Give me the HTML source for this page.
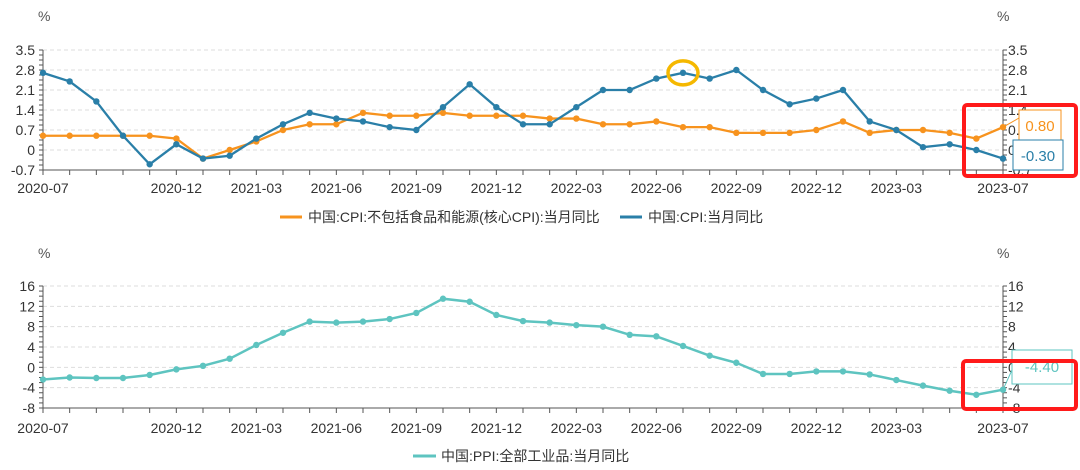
<!DOCTYPE html>
<html><head><meta charset="utf-8"><style>
body{margin:0;background:#fff;width:1080px;height:465px;overflow:hidden;font-family:"Liberation Sans","Noto Sans CJK SC",sans-serif}
svg text{font-family:"Liberation Sans","Noto Sans CJK SC",sans-serif}
</style></head><body>
<svg id="c" width="1080" height="465"></svg>
<script>
const months=[];for(let i=0;i<37;i++){const m=(6+i)%12+1,y=2020+Math.floor((6+i)/12);months.push(y+'-'+String(m).padStart(2,'0'));}
const labeledIdx=[0,5,8,11,14,17,20,23,26,29,32,36];
const cpiVals=[2.7,2.4,1.7,0.5,-0.5,0.2,-0.3,-0.2,0.4,0.9,1.3,1.1,1.0,0.8,0.7,1.5,2.3,1.5,0.9,0.9,1.5,2.1,2.1,2.5,2.7,2.5,2.8,2.1,1.6,1.8,2.1,1.0,0.7,0.1,0.2,0.0,-0.3];
const coreVals=[0.5,0.5,0.5,0.5,0.5,0.4,-0.3,0.0,0.3,0.7,0.9,0.9,1.3,1.2,1.2,1.3,1.2,1.2,1.2,1.1,1.1,0.9,0.9,1.0,0.8,0.8,0.6,0.6,0.6,0.7,1.0,0.6,0.7,0.7,0.6,0.4,0.8];
const ppiVals=[-2.4,-2.0,-2.1,-2.1,-1.5,-0.4,0.3,1.7,4.4,6.8,9.0,8.8,9.0,9.5,10.7,13.5,12.9,10.3,9.1,8.8,8.3,8.0,6.4,6.1,4.2,2.3,0.9,-1.3,-1.3,-0.8,-0.8,-1.4,-2.5,-3.6,-4.6,-5.4,-4.4];
const topTicks=[3.5,2.8,2.1,1.4,0.7,0,-0.7];
const botTicks=[16,12,8,4,0,-4,-8];
const S=document.getElementById('c'),NS='http://www.w3.org/2000/svg';
function el(t,a,txt){const e=document.createElementNS(NS,t);for(const k in a)e.setAttribute(k,a[k]);if(txt!=null)e.textContent=txt;S.appendChild(e);return e;}
const X0=43,X1=1003;const xs=i=>X0+i*(X1-X0)/36;
function panel(yTop,yBot,vmax,vmin,ticks,fmt,xLabY){
  const ys=v=>yTop+(vmax-v)/(vmax-vmin)*(yBot-yTop);
  ticks.forEach(t=>{
    if(t!==vmin){const g=el('line',{x1:X0,x2:X1,y1:ys(t),y2:ys(t),stroke:'#ddd','stroke-dasharray':'4,3'});}
    const a=el('text',{x:35,y:ys(t)+5,'text-anchor':'end','font-size':14,fill:'#333'},fmt(t));
    const b=el('text',{x:1008,y:ys(t)+5,'font-size':14,fill:'#333'},fmt(t));
  });
  const step=(ticks[0]-ticks[1])/4;
  for(let v=vmin;v<=vmax+1e-9;v+=step){el('line',{x1:X0-4,x2:X0,y1:ys(v),y2:ys(v),stroke:'#555'});el('line',{x1:X1,x2:X1+4,y1:ys(v),y2:ys(v),stroke:'#555'});}
  el('line',{x1:X0,x2:X0,y1:yTop,y2:yBot,stroke:'#555'});el('line',{x1:X1,x2:X1,y1:yTop,y2:yBot,stroke:'#555'});
  el('line',{x1:X0,x2:X1,y1:yBot,y2:yBot,stroke:'#555'});
  months.forEach((m,i)=>{el('line',{x1:xs(i),x2:xs(i),y1:yBot,y2:yBot+5,stroke:'#555'});
    if(labeledIdx.includes(i)){const t=el('text',{x:xs(i),y:xLabY,'text-anchor':'middle','font-size':14,fill:'#333'},m);}});
  return ys;
}
function series(vals,ys,color,name,w){
  const p=el('polyline',{points:vals.map((v,i)=>xs(i)+','+ys(v)).join(' '),fill:'none',stroke:color,'stroke-width':w});
  
  vals.forEach((v,i)=>{const c=el('circle',{cx:xs(i),cy:ys(v),r:3.2,fill:color});});
}
el('text',{x:38,y:21,'font-size':14,fill:'#555'},'%');el('text',{x:997,y:21,'font-size':14,fill:'#555'},'%');
const yt=panel(50,170,3.5,-0.7,topTicks,t=>t===0?'0':t.toFixed(1),193);
series(coreVals,yt,'#f7931e','core-cpi',2.3);
series(cpiVals,yt,'#2a7fa8','cpi',2.3);
let yc=el('ellipse',{cx:xs(24),cy:yt(cpiVals[24]),rx:15,ry:12,fill:'none',stroke:'#f5b800','stroke-width':3.5});
let r=el('rect',{x:1019,y:110,width:42,height:30,fill:'#fff',stroke:'#f7931e'});
el('text',{x:1040,y:131,'text-anchor':'middle','font-size':15,fill:'#f7931e'},coreVals[36].toFixed(2));
el('polyline',{points:`${xs(36)},${yt(coreVals[36])} 1019,118`,fill:'none',stroke:'#f7931e'});
r=el('rect',{x:1013,y:140,width:50,height:30,fill:'#fff',stroke:'#2a7fa8'});
el('text',{x:1038,y:161,'text-anchor':'middle','font-size':15,fill:'#2a7fa8'},cpiVals[36].toFixed(2));
r=el('rect',{x:964,y:105,width:112,height:71,rx:3,fill:'none',stroke:'#ff1a1a','stroke-width':4});
el('line',{x1:280,x2:302,y1:217,y2:217,stroke:'#f7931e','stroke-width':3});
let lg=el('text',{x:308,y:222,'font-size':14,fill:'#333'},'中国:CPI:不包括食品和能源(核心CPI):当月同比');
el('line',{x1:620,x2:642,y1:217,y2:217,stroke:'#2a7fa8','stroke-width':3});
lg=el('text',{x:648,y:222,'font-size':14,fill:'#333'},'中国:CPI:当月同比');
el('text',{x:38,y:258,'font-size':14,fill:'#555'},'%');el('text',{x:997,y:258,'font-size':14,fill:'#555'},'%');
const yb=panel(286,408,16,-8,botTicks,t=>String(t),433);
series(ppiVals,yb,'#5ec4c0','ppi',2.5);
r=el('rect',{x:1012,y:350,width:60,height:34,fill:'#fff',stroke:'#5ec4c0'});
el('text',{x:1042,y:372,'text-anchor':'middle','font-size':15,fill:'#5ec4c0'},ppiVals[36].toFixed(2));
el('polyline',{points:`${xs(36)},${yb(ppiVals[36])} 1012,370`,fill:'none',stroke:'#5ec4c0'});
r=el('rect',{x:963,y:361,width:113,height:48,rx:3,fill:'none',stroke:'#ff1a1a','stroke-width':4});
el('line',{x1:413,x2:436,y1:456,y2:456,stroke:'#5ec4c0','stroke-width':3});
lg=el('text',{x:441,y:461,'font-size':14,fill:'#333'},'中国:PPI:全部工业品:当月同比');
</script>
</body></html>
